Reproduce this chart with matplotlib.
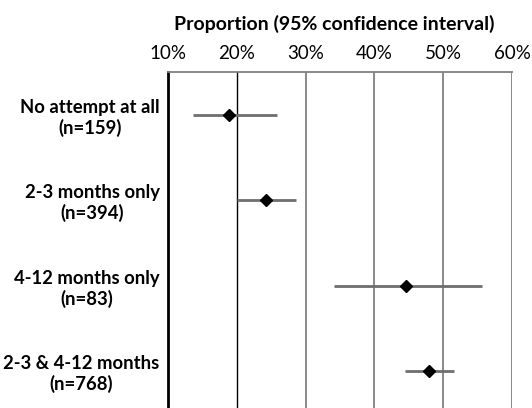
import numpy as np
import matplotlib
matplotlib.use("Agg")
from matplotlib import pyplot as plt

# data
groups = ["No attempt at all\n(n=159)", "2-3 months only\n(n=394)",
          "4-12 months only\n(n=83)", "2-3 & 4-12 months\n(n=768)"]
proportion = [18.9, 24.2, 44.6, 47.9]
ci_low = [13.6, 20.1, 34.2, 44.5]
ci_high = [25.8, 28.6, 55.6, 51.5]
xticks = [10, 20, 30, 40, 50, 60]

plt.rcParams['font.family'] = ['Lato', 'DejaVu Sans']

fig = plt.figure(figsize=(5.32, 4.08), dpi=100)
ax = fig.add_axes([168/532, 0.0, (512-168)/532, 1 - 72/408])

y = np.arange(len(groups))
prop = np.array(proportion)
err = [prop - np.array(ci_low), np.array(ci_high) - prop]

# grid lines
for t in xticks[1:]:
    c = 'black' if t == 20 else '#808080'
    ax.axvline(t, color=c, lw=1.3 if t != 20 else 1.0, zorder=0)

ax.errorbar(prop, y, xerr=err, fmt='D', color='black', ms=6,
            ecolor='#6e6e6e', elinewidth=2, capsize=0, zorder=3)

ax.set_xlim(10, 60)
ax.set_ylim(3.43, -0.5)
ax.set_xticks(xticks)
ax.set_xticklabels([f"{t}%" for t in xticks])
ax.xaxis.tick_top()
ax.set_yticks(y)
ax.set_yticklabels(groups, fontweight='bold', multialignment='center')
ax.tick_params(axis='x', length=0, labelsize=13.5, pad=7)
ax.tick_params(axis='y', length=0, labelsize=13.3, pad=6)

for s in ['bottom', 'right']:
    ax.spines[s].set_visible(False)
ax.spines['left'].set_linewidth(2)
ax.spines['left'].set_color('black')
ax.spines['top'].set_color('#808080')
ax.spines['top'].set_linewidth(1.3)

fig.text(334/532, 1 - 24/408, "Proportion (95% confidence interval)",
         ha='center', va='center', fontsize=14, fontweight='bold')

fig.savefig('out.png', dpi=100)
